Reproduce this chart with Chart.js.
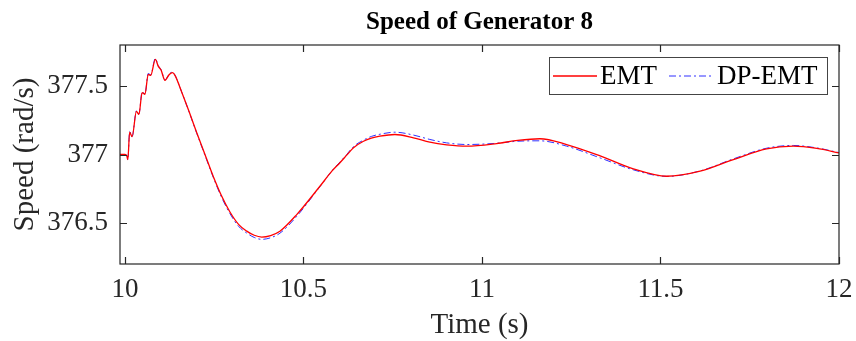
<!DOCTYPE html>
<html>
<head>
<meta charset="utf-8">
<script src="https://cdn.jsdelivr.net/npm/chart.js@4.4.0/dist/chart.umd.min.js"></script>
<style>
  html, body { margin: 0; padding: 0; background: #fff; }
</style>
</head>
<body>
<canvas id="speedChart" width="856" height="341"></canvas>
<script>
// values
const time = [9.986, 10.000, 10.005, 10.008, 10.013, 10.020, 10.032, 10.039, 10.048, 10.056,
    10.065, 10.072, 10.085, 10.093, 10.101, 10.112, 10.124, 10.133, 10.140, 10.159,
    10.180, 10.201, 10.224, 10.247, 10.270, 10.294, 10.318, 10.341, 10.362, 10.383,
    10.408, 10.434, 10.481, 10.546, 10.580, 10.602, 10.621, 10.640, 10.668, 10.690,
    10.714, 10.756, 10.808, 10.854, 10.901, 10.957, 11.041, 11.100, 11.162, 11.237,
    11.331, 11.424, 11.517, 11.611, 11.704, 11.797, 11.872, 11.938, 12.000];
const emt = [377.000, 377.000, 376.990, 376.962, 377.163, 377.130, 377.315, 377.293, 377.452, 377.440,
    377.586, 377.578, 377.695, 377.646, 377.617, 377.542, 377.585, 377.598, 377.578, 377.455,
    377.310, 377.159, 377.000, 376.841, 376.700, 376.580, 376.490, 376.440, 376.410, 376.397,
    376.408, 376.439, 376.561, 376.768, 376.880, 376.940, 376.995, 377.050, 377.097, 377.120,
    377.134, 377.146, 377.122, 377.090, 377.071, 377.061, 377.080, 377.103, 377.115, 377.073,
    376.990, 376.895, 376.841, 376.878, 376.963, 377.041, 377.061, 377.044, 377.012];
const dpEmt = [377.000, 377.000, 376.990, 376.960, 377.168, 377.132, 377.320, 377.296, 377.458, 377.444,
    377.592, 377.582, 377.702, 377.650, 377.620, 377.545, 377.588, 377.602, 377.580, 377.455,
    377.308, 377.155, 376.995, 376.835, 376.690, 376.568, 376.476, 376.426, 376.394, 376.380,
    376.392, 376.425, 376.548, 376.765, 376.882, 376.945, 377.000, 377.058, 377.105, 377.132,
    377.148, 377.163, 377.142, 377.110, 377.085, 377.073, 377.082, 377.097, 377.100, 377.061,
    376.975, 376.888, 376.840, 376.880, 376.968, 377.046, 377.066, 377.048, 377.014];
const seriesNames = ['EMT', 'DP-EMT'];
const xTicks = [10, 10.5, 11, 11.5, 12];
const yTicks = [376.5, 377, 377.5];
const chartTitle = 'Speed of Generator 8';

const SERIF = "'Liberation Serif', 'Times New Roman', serif";
const AXIS = '#262626';

// MATLAB-like box: title over the axes, frame, inward ticks on all sides, boxed legend
const boxPlugin = {
    id: 'boxPlugin',
    afterDatasetsDraw(chart) {
        const { ctx, chartArea: a, scales: { x, y } } = chart;
        const tl = 7;
        ctx.save();
        ctx.strokeStyle = AXIS;
        ctx.lineWidth = 1.2;
        ctx.strokeRect(a.left, a.top, a.right - a.left, a.bottom - a.top);
        ctx.beginPath();
        xTicks.forEach(v => {
            const px = Math.round(x.getPixelForValue(v)) + 0.5;
            ctx.moveTo(px, a.bottom); ctx.lineTo(px, a.bottom - tl);
            ctx.moveTo(px, a.top); ctx.lineTo(px, a.top + tl);
        });
        yTicks.forEach(v => {
            const py = Math.round(y.getPixelForValue(v)) + 0.5;
            ctx.moveTo(a.left, py); ctx.lineTo(a.left + tl, py);
            ctx.moveTo(a.right, py); ctx.lineTo(a.right - tl, py);
        });
        ctx.stroke();

        // title, centred on the axes like MATLAB
        ctx.fillStyle = '#000';
        ctx.font = 'bold 25px ' + SERIF;
        ctx.textAlign = 'center';
        ctx.textBaseline = 'alphabetic';
        ctx.fillText(chartTitle, (a.left + a.right) / 2, 29);

        // legend
        const bx = a.right - 290, by = a.top + 12, bw = 278, bh = 37;
        ctx.fillStyle = '#fff';
        ctx.fillRect(bx, by, bw, bh);
        ctx.strokeStyle = '#444';
        ctx.lineWidth = 1;
        ctx.strokeRect(bx + 0.5, by + 0.5, bw, bh);
        const cy = by + bh / 2 + 0.5;
        const ds = chart.data.datasets;
        const items = [{ x0: bx + 4, tx: bx + 51 }, { x0: bx + 120, tx: bx + 168 }];
        ctx.font = '27px ' + SERIF;
        ctx.textAlign = 'left';
        ctx.textBaseline = 'middle';
        ctx.fillStyle = '#000';
        items.forEach((it, i) => {
            ctx.beginPath();
            ctx.strokeStyle = ds[i].borderColor;
            ctx.lineWidth = ds[i].borderWidth;
            ctx.setLineDash(ds[i].borderDash || []);
            ctx.moveTo(it.x0, cy);
            ctx.lineTo(it.x0 + 44, cy);
            ctx.stroke();
            ctx.setLineDash([]);
            ctx.fillText(seriesNames[i], it.tx, cy + 1);
        });
        ctx.restore();
    }
};

new Chart(document.getElementById('speedChart'), {
    type: 'line',
    data: {
        datasets: [{
            label: seriesNames[0],
            data: time.map((t, i) => ({ x: t, y: emt[i] })),
            borderColor: '#ff0000',
            borderWidth: 1.3,
            pointRadius: 0,
            cubicInterpolationMode: 'monotone'
        }, {
            label: seriesNames[1],
            data: time.map((t, i) => ({ x: t, y: dpEmt[i] })),
            borderColor: '#3030ff',
            borderWidth: 1,
            borderDash: [7, 3, 2, 3],
            pointRadius: 0,
            cubicInterpolationMode: 'monotone'
        }]
    },
    options: {
        responsive: false,
        animation: false,
        layout: { padding: { left: 0, right: 17, top: 45, bottom: 0 } },
        plugins: {
            legend: { display: false },
            tooltip: { enabled: false },
            title: { display: false }
        },
        scales: {
            x: {
                type: 'linear',
                min: 9.986,
                max: 12,
                afterBuildTicks: s => { s.ticks = xTicks.map(v => ({ value: v })); },
                afterFit: s => { s.height = 77; s.paddingLeft = 0; s.paddingRight = 0; },
                grid: { display: false, drawTicks: false },
                border: { display: false },
                ticks: {
                    color: AXIS, padding: 10, maxRotation: 0, autoSkip: false,
                    font: { family: SERIF, size: 27 },
                    callback: v => String(v)
                },
                title: {
                    display: true, text: 'Time (s)', color: AXIS,
                    font: { family: SERIF, size: 29, lineHeight: 1 },
                    padding: { top: 0, bottom: 1 }
                }
            },
            y: {
                min: 376.2,
                max: 377.8,
                afterBuildTicks: s => { s.ticks = yTicks.map(v => ({ value: v })); },
                afterFit: s => { s.width = 120; s.paddingTop = 0; s.paddingBottom = 0; },
                grid: { display: false, drawTicks: false },
                border: { display: false },
                ticks: {
                    color: AXIS, padding: 12, autoSkip: false,
                    font: { family: SERIF, size: 27 },
                    callback: v => String(v)
                },
                title: {
                    display: true, text: 'Speed (rad/s)', color: AXIS,
                    font: { family: SERIF, size: 29, lineHeight: 1 },
                    padding: { top: 11, bottom: 0 }
                }
            }
        }
    },
    plugins: [boxPlugin]
});
</script>
</body>
</html>
